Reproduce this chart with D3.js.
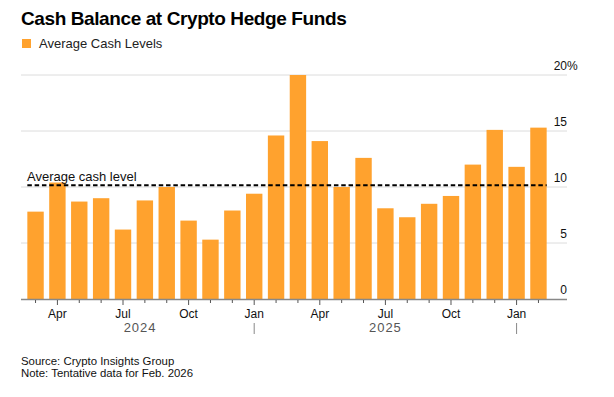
<!DOCTYPE html>
<html>
<head>
<meta charset="utf-8">
<script src="https://cdn.jsdelivr.net/npm/d3@7"></script>
<style>
  body { margin: 0; background: #fff; }
  text { font-family: "Liberation Sans", Arial, sans-serif; }
</style>
</head>
<body>
<svg id="chart" width="614" height="397"></svg>
<script>
// months Mar 2024 .. Feb 2026
var months = ["2024-03","2024-04","2024-05","2024-06","2024-07","2024-08","2024-09","2024-10","2024-11","2024-12",
              "2025-01","2025-02","2025-03","2025-04","2025-05","2025-06","2025-07","2025-08","2025-09","2025-10","2025-11","2025-12",
              "2026-01","2026-02"];
var cashLevels = [7.8, 10.4, 8.7, 9.0, 6.2, 8.8, 10.0, 7.0, 5.3, 7.9,
                  9.4, 14.6, 20.0, 14.1, 10.0, 12.6, 8.1, 7.3, 8.5, 9.2, 12.0, 15.1,
                  11.8, 15.3];
var averageLevel = 10.15;
var yTicks = [0, 5, 10, 15, 20];
var monthLabels = {"04":"Apr", "07":"Jul", "10":"Oct", "01":"Jan"};
var years = ["2024", "2025"];

var svg = d3.select("#chart");
var barColor = "#FFA22E";

var x = d3.scaleBand()
    .domain(months)
    .range([21, 553])
    .paddingInner(0.25)
    .paddingOuter(0.29);

var y = d3.scaleLinear()
    .domain([0, 20])
    .range([299, 75]);

//Title + legend
svg.append("text")
    .attr("x", 21).attr("y", 25)
    .attr("font-size", 19).attr("font-weight", "bold")
    .attr("fill", "#000")
    .attr("letter-spacing", -0.4)
    .text("Cash Balance at Crypto Hedge Funds");

svg.append("rect")
    .attr("x", 22).attr("y", 39)
    .attr("width", 9).attr("height", 9)
    .attr("fill", barColor);
svg.append("text")
    .attr("x", 39).attr("y", 48)
    .attr("font-size", 13).attr("fill", "#222")
    .text("Average Cash Levels");

//Gridlines and right-side labels
svg.append("g").selectAll("line")
    .data(yTicks.filter(function(d) { return d > 0; }))
    .enter().append("line")
    .attr("x1", 21).attr("x2", 567)
    .attr("y1", function(d) { return y(d); })
    .attr("y2", function(d) { return y(d); })
    .attr("stroke", "#dcdcdc").attr("stroke-width", 1);

svg.append("g").selectAll("text")
    .data(yTicks)
    .enter().append("text")
    .attr("x", 567)
    .attr("y", function(d) { return y(d) - 5; })
    .attr("text-anchor", "end")
    .attr("font-size", 12).attr("fill", "#111")
    .text(function(d) { return d; });

svg.append("text")
    .attr("x", 567).attr("y", y(20) - 5)
    .attr("font-size", 12).attr("fill", "#111")
    .text("%");

//Bars
svg.append("g").selectAll("rect")
    .data(months)
    .enter().append("rect")
    .attr("x", function(d) { return x(d); })
    .attr("width", x.bandwidth())
    .attr("y", function(d, i) { return y(cashLevels[i]); })
    .attr("height", function(d, i) { return y(0) - y(cashLevels[i]); })
    .attr("fill", barColor);

//Average line
svg.append("line")
    .attr("x1", x(months[0])).attr("x2", x(months[months.length-1]) + x.bandwidth())
    .attr("y1", y(averageLevel)).attr("y2", y(averageLevel))
    .attr("stroke", "#000").attr("stroke-width", 2)
    .attr("stroke-dasharray", "4.5,2.8");
svg.append("text")
    .attr("x", 27).attr("y", y(averageLevel) - 4)
    .attr("font-size", 13).attr("fill", "#111")
    .text("Average cash level");

//X axis
svg.append("line")
    .attr("x1", 21).attr("x2", 567)
    .attr("y1", y(0) + 0.5).attr("y2", y(0) + 0.5)
    .attr("stroke", "#888").attr("stroke-width", 1.5);

var ticks = svg.append("g").selectAll("g")
    .data(months)
    .enter().append("g")
    .attr("transform", function(d) { return "translate(" + (x(d) + x.bandwidth()/2) + ",0)"; });

ticks.append("line")
    .attr("y1", y(0) + 1)
    .attr("y2", function(d) { return monthLabels[d.slice(5)] ? y(0) + 6 : y(0) + 4; })
    .attr("stroke", "#555").attr("stroke-width", 1);

ticks.append("text")
    .attr("y", 318)
    .attr("text-anchor", "middle")
    .attr("font-size", 12).attr("fill", "#111")
    .text(function(d) { return monthLabels[d.slice(5)] || ""; });

//Year labels, centred between separators
var janPos = months.filter(function(d) { return d.slice(5) == "01"; })
                   .map(function(d) { return x(d) + x.bandwidth()/2; });
var yearEdges = [26].concat(janPos);

svg.append("g").selectAll("text")
    .data(years)
    .enter().append("text")
    .attr("x", function(d, i) { return (yearEdges[i] + yearEdges[i+1]) / 2; })
    .attr("y", 332)
    .attr("text-anchor", "middle")
    .attr("font-size", 13).attr("letter-spacing", 1)
    .attr("fill", "#555")
    .text(function(d) { return d; });

svg.append("g").selectAll("line")
    .data(janPos)
    .enter().append("line")
    .attr("x1", function(d) { return d; }).attr("x2", function(d) { return d; })
    .attr("y1", 323).attr("y2", 334)
    .attr("stroke", "#888").attr("stroke-width", 1);

//Footer
svg.append("text")
    .attr("x", 21).attr("y", 365)
    .attr("font-size", 11.4).attr("fill", "#111")
    .text("Source: Crypto Insights Group");
svg.append("text")
    .attr("x", 21).attr("y", 377)
    .attr("font-size", 11.4).attr("fill", "#111")
    .text("Note: Tentative data for Feb. 2026");
</script>
</body>
</html>
